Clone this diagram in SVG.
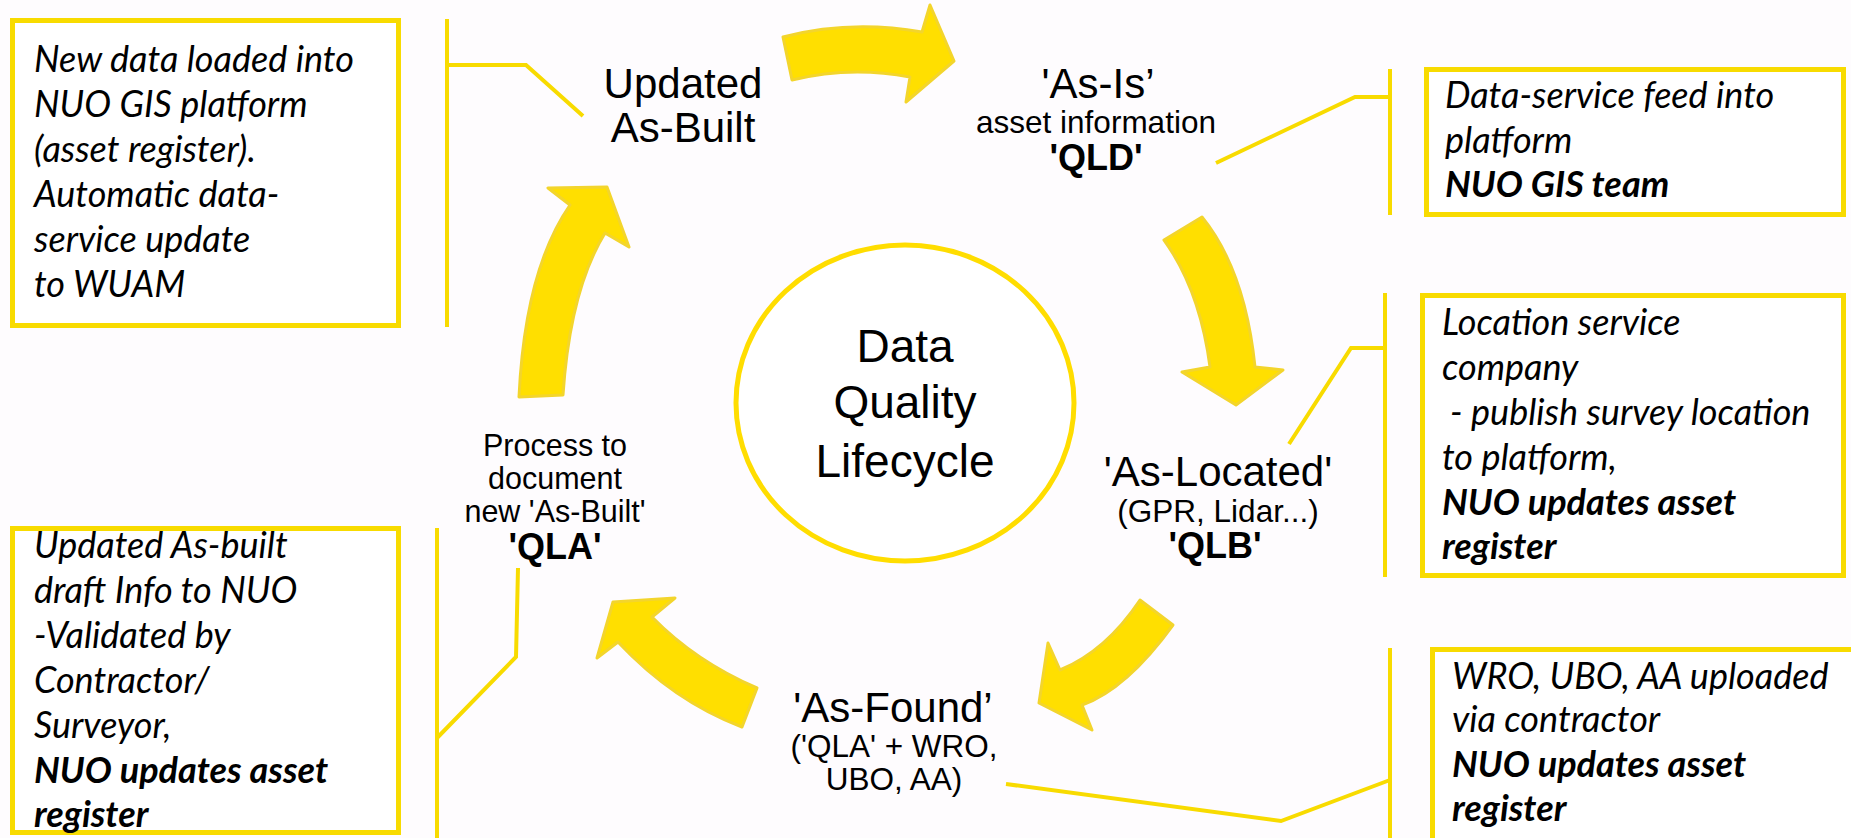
<svg xmlns="http://www.w3.org/2000/svg" width="1851" height="838" viewBox="0 0 1851 838">
<style>
.bg{fill:#FEFCFE}
.box{fill:#FFFFFF;stroke:#F8DB00;stroke-width:5}
.conn{fill:none;stroke:#F8DB00;stroke-width:4}
.arr{fill:#FFDF00;stroke:#F3D52C;stroke-width:3;stroke-linejoin:round}
.ring{fill:#FFFFFF;stroke:#FFDD00;stroke-width:5}
.note{font-family:Lato,"Open Sans","DejaVu Sans",sans-serif;font-style:italic;font-size:36px;fill:#000}
.nb{font-weight:bold}
.lbl{font-family:"Liberation Sans",Arial,sans-serif;fill:#000;text-anchor:middle}
.big{font-size:42px}
.mid{font-size:31.5px}
.sm{font-size:30.5px}
.q{font-size:36px;font-weight:bold}
.core{font-size:46px}
</style>
<rect class="bg" x="0" y="0" width="1851" height="838"/>

<g id="arrows">
<path class="arr" d="M783,37 Q850,19.5 922,32 L930,5 L954,61 L906,102 L910,77 Q850,65.5 792,80 Z"/>
<path class="arr" d="M1164,240 L1202,217 Q1245,270 1255,367 L1283,370 L1236,405 L1182,372 L1210,367 Q1200,290 1164,240 Z"/>
<path class="arr" d="M1140,600 L1173,625 Q1126.5,689 1082,705 L1092,730 L1039,703 L1048,643 L1060,670 Q1106,651 1140,600 Z"/>
<path class="arr" d="M757,688 Q695.5,661.5 652,617 L675,598 L613,602 L597,658 L618,642 Q674,701.5 742,727 Z"/>
<path class="arr" d="M519,397 Q525,270 570,205 L548,188 L607,187 L629,247 L605,233 Q570,290 563,395 Z"/>
</g>

<g id="connectors">
<line class="conn" x1="447" y1="19" x2="447" y2="327"/>
<polyline class="conn" points="447,65 526,65 583,116"/>
<line class="conn" x1="1390" y1="69" x2="1390" y2="215"/>
<polyline class="conn" points="1390,97 1355,97 1216,163"/>
<line class="conn" x1="1385" y1="293" x2="1385" y2="577"/>
<polyline class="conn" points="1385,348 1351,348 1289,444"/>
<line class="conn" x1="1390" y1="648" x2="1390" y2="838"/>
<polyline class="conn" points="1390,780 1281,821 1006,784"/>
<line class="conn" x1="437" y1="528" x2="437" y2="838"/>
<polyline class="conn" points="437,738 516,657 518,568"/>
</g>

<g id="center">
<ellipse class="ring" cx="905" cy="403" rx="169" ry="158"/>
<text class="lbl core" x="905" y="362">Data</text>
<text class="lbl core" x="905" y="418">Quality</text>
<text class="lbl core" x="905" y="477">Lifecycle</text>
</g>

<g id="updated-as-built">
<text class="lbl big" x="683" y="98" font-size="41">Updated</text>
<text class="lbl big" x="683" y="142" font-size="41">As-Built</text>
</g>

<g id="as-is">
<text class="lbl big" x="1098" y="98">'As-Is’</text>
<text class="lbl mid" x="1096" y="133">asset information</text>
<text class="lbl q" x="1096" y="170">'QLD'</text>
</g>

<g id="as-located">
<text class="lbl big" x="1218" y="486">'As-Located'</text>
<text class="lbl mid" x="1218" y="522">(GPR, Lidar...)</text>
<text class="lbl q" x="1215" y="558">'QLB'</text>
</g>

<g id="as-found">
<text class="lbl big" x="893" y="722">'As-Found’</text>
<text class="lbl mid" x="894" y="757">('QLA' + WRO,</text>
<text class="lbl mid" x="894" y="790">UBO, AA)</text>
</g>

<g id="process">
<text class="lbl sm" x="555" y="456">Process to</text>
<text class="lbl sm" x="555" y="489">document</text>
<text class="lbl sm" x="555" y="522">new 'As-Built'</text>
<text class="lbl q" x="555" y="559">'QLA'</text>
</g>

<g id="note-gis-platform">
<rect class="box" x="12.5" y="20.5" width="386" height="305"/>
<text class="note" x="34" y="72">New data loaded into</text>
<text class="note" x="34" y="117">NUO GIS platform</text>
<text class="note" x="34" y="162">(asset register).</text>
<text class="note" x="34" y="207">Automatic data-</text>
<text class="note" x="34" y="252">service update</text>
<text class="note" x="34" y="297">to WUAM</text>
</g>

<g id="note-data-service">
<rect class="box" x="1426.5" y="69.5" width="417" height="145"/>
<text class="note" x="1445" y="108">Data-service feed into</text>
<text class="note" x="1445" y="153">platform</text>
<text class="note nb" x="1445" y="197">NUO GIS team</text>
</g>

<g id="note-location-service">
<rect class="box" x="1422.5" y="295.5" width="421" height="280"/>
<text class="note" x="1442" y="335">Location service</text>
<text class="note" x="1442" y="380">company</text>
<text class="note" x="1450" y="425">- publish survey location</text>
<text class="note" x="1442" y="470">to platform,</text>
<text class="note nb" x="1442" y="515">NUO updates asset</text>
<text class="note nb" x="1442" y="559">register</text>
</g>

<g id="note-contractor">
<rect class="box" x="1432.5" y="649.5" width="430" height="200"/>
<text class="note" x="1452" y="689">WRO, UBO, AA uploaded</text>
<text class="note" x="1452" y="732">via contractor</text>
<text class="note nb" x="1452" y="777">NUO updates asset</text>
<text class="note nb" x="1452" y="821">register</text>
</g>

<g id="note-as-built">
<rect class="box" x="12.5" y="528.5" width="386" height="304"/>
<text class="note" x="34" y="558">Updated As-built</text>
<text class="note" x="34" y="603">draft Info to NUO</text>
<text class="note" x="34" y="648">-Validated by</text>
<text class="note" x="34" y="693">Contractor/</text>
<text class="note" x="34" y="738">Surveyor,</text>
<text class="note nb" x="34" y="783">NUO updates asset</text>
<text class="note nb" x="34" y="827">register</text>
</g>
</svg>
